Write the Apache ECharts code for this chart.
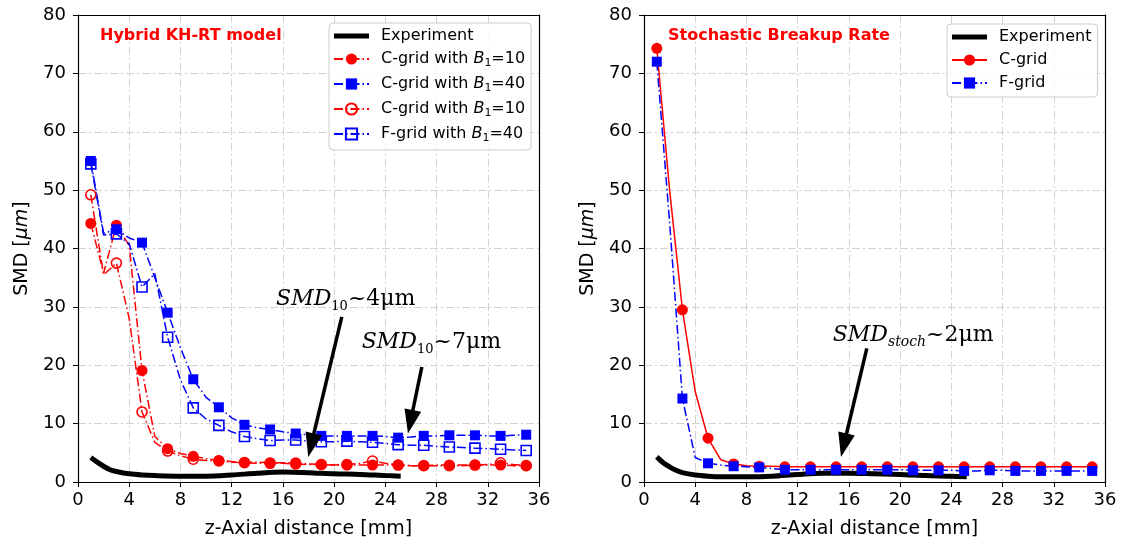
<!DOCTYPE html>
<html><head><meta charset="utf-8">
<script src="https://cdn.jsdelivr.net/npm/echarts@6/dist/echarts.min.js"></script>
<style>html,body{margin:0;padding:0;background:#fff}#c{width:1122px;height:546px}</style>
</head><body><div id="c"></div>
<script>
// ---------- data ----------
const simZ = [1,2,3,4,5,6,7,8,9,10,11,12,13,14,15,16,17,18,19,20,21,22,23,24,25,26,27,28,29,30,31,32,33,34,35];
const khrtC10 = [44.3,35.8,44.0,40.5,19.1,7.8,5.7,4.9,4.4,4.0,3.7,3.5,3.4,3.4,3.3,3.3,3.3,3.1,3.0,2.9,2.9,2.9,2.9,2.9,2.9,2.8,2.8,2.9,2.9,2.9,2.9,2.9,2.9,2.8,2.8];
const khrtC40 = [55.0,42.6,43.3,41.8,41.0,35.0,29.0,23.0,17.6,14.5,12.8,11.0,9.8,9.3,9.0,8.6,8.3,8.1,7.9,7.9,7.9,7.9,7.9,7.8,7.6,7.7,7.9,7.9,8.0,8.0,8.0,7.9,7.9,8.0,8.1];
const khrtC10b = [49.2,35.5,37.5,28.0,12.0,6.8,5.3,4.5,3.9,3.7,3.6,3.4,3.3,3.2,3.2,3.2,3.1,3.0,3.0,2.9,3.0,3.2,3.6,3.2,2.9,2.8,2.8,2.8,2.8,2.8,2.9,3.0,3.3,3.0,2.8];
const khrtF40 = [54.5,42.3,42.5,40.8,33.4,35.7,24.8,17.5,12.7,10.8,9.7,8.6,7.8,7.4,7.1,7.2,7.2,7.0,6.9,6.9,7.0,6.9,6.8,6.6,6.4,6.3,6.3,6.1,6.0,5.9,5.8,5.7,5.6,5.5,5.4];
const stochC = [74.3,50.0,29.5,15.5,7.5,3.8,3.1,2.8,2.7,2.7,2.6,2.6,2.6,2.6,2.6,2.6,2.6,2.6,2.6,2.6,2.6,2.6,2.6,2.6,2.6,2.6,2.6,2.6,2.6,2.6,2.6,2.6,2.6,2.6,2.6];
const stochF = [72.0,44.5,14.3,4.2,3.2,2.9,2.7,2.6,2.5,2.3,2.1,2.1,2.1,2.1,2.1,2.1,2.1,2.1,2.1,2.1,2.0,2.0,2.0,2.0,1.9,1.9,2.0,2.0,1.9,1.9,1.9,1.9,1.9,1.9,1.9];
const expZ = [1,1.5,2,2.5,3,4,5,6,8,10,12,14,16,18,20,22,24,25.2];
const expLeft = [4.2,3.4,2.7,2.1,1.8,1.4,1.2,1.1,1.0,1.0,1.2,1.5,1.7,1.6,1.4,1.3,1.1,1.0];
const expRight = [4.3,3.3,2.6,2.0,1.6,1.2,1.0,0.9,0.9,1.0,1.3,1.5,1.5,1.4,1.3,1.1,1.0,0.9];

const titles = ['Hybrid KH-RT model', 'Stochastic Breakup Rate'];
const xName = 'z-Axial distance [mm]';
const legendLabels = {
  exp1: '{n|Experiment}',
  c10: '{n|C-grid with }{i|B}{s|1}{n|=10}',
  c40: '{n|C-grid with }{i|B}{s|1}{n|=40}',
  c10o: '{n|C-grid with }{i|B}{s|1}{n|=10}',
  f40: '{n|F-grid with }{i|B}{s|1}{n|=40}',
  exp2: '{n|Experiment}',
  c2: '{n|C-grid}',
  f2: '{n|F-grid}'
};
// annotation arrows: [start, end] in data coords
const arrowsLeft = [[[20.6, 28.3], [18.2, 6.3]], [[26.85, 19.7], [25.96, 10.3]]];
const arrowsRight = [[[17.4, 22.9], [15.6, 6.3]]];
const textsLeft = [{at: [15.47, 31.3], sub: '10', subStyle: 'u', tail: '~4μm'}, {at: [22.16, 23.9], sub: '10', subStyle: 'u', tail: '~7μm'}];
const textsRight = [{at: [14.74, 25.2], sub: 'stoch', subStyle: 's', tail: '~2μm'}];

// ---------- styling ----------
const FONT = 'DejaVu Sans';
const DASHDOT = [9, 3, 1.5, 3];
const RED = '#ff0000', BLUE = '#0000ff';
const pairs = (xs, ys) => xs.map((x, i) => [x, ys[i]]);
const markerSize = s => (v => (v[0] % 2 === 1 ? s : 0));

const richLegend = {
  n: {fontFamily: FONT, fontSize: 16, lineHeight: 20, color: '#000'},
  i: {fontFamily: FONT, fontSize: 16, fontStyle: 'italic', lineHeight: 20, color: '#000'},
  s: {fontFamily: FONT, fontSize: 11, lineHeight: 9, verticalAlign: 'bottom', color: '#000'}
};
const richAnno = {
  i: {fontFamily: 'DejaVu Serif', fontSize: 22, fontStyle: 'italic', lineHeight: 28, color: '#000'},
  s: {fontFamily: 'DejaVu Serif', fontSize: 14, fontStyle: 'italic', lineHeight: 11, verticalAlign: 'bottom', color: '#000'},
  u: {fontFamily: 'DejaVu Serif', fontSize: 13, lineHeight: 11, verticalAlign: 'bottom', color: '#000'},
  n: {fontFamily: 'DejaVu Serif', fontSize: 22, lineHeight: 28, color: '#000'}
};

function annotations(arrows, texts) {
  return {
    markLine: {
      silent: true, animation: false,
      symbol: ['none', 'triangle'],
      lineStyle: {color: '#000', width: 3.5, type: 'solid'},
      label: {show: false},
      data: arrows.map(a => [{coord: a[0], symbol: 'none'}, {coord: a[1], symbol: 'triangle', symbolSize: [17, 24]}])
    },
    markPoint: {
      silent: true, animation: false,
      symbol: 'circle', symbolSize: 0,
      data: texts.map(t => ({
        coord: t.at,
        label: {show: true, position: 'right', distance: 0,
          formatter: '{i|SMD}{' + t.subStyle + '|' + t.sub + '}{n|' + t.tail + '}', rich: richAnno}
      }))
    }
  };
}

const SPLIT = {show: true, lineStyle: {color: '#d2d2d2', width: 1, type: [8, 3, 2, 3]}};
function xAxis(gi) {
  return {
    type: 'value', gridIndex: gi, min: 0, max: 36, interval: 4,
    name: xName, nameLocation: 'middle', nameGap: 38,
    nameTextStyle: {fontFamily: FONT, fontSize: 19, color: '#000'},
    axisLine: {show: true, onZero: false, lineStyle: {color: '#000', width: 1.2}},
    axisTick: {show: true, inside: false, length: 5, lineStyle: {color: '#000'}},
    axisLabel: {fontFamily: FONT, fontSize: 18, color: '#000', margin: 9},
    splitLine: SPLIT
  };
}
function xFrame(gi) {
  return {
    type: 'value', gridIndex: gi, min: 0, max: 36, interval: 4, position: 'top',
    axisLine: {show: true, onZero: false, lineStyle: {color: '#000', width: 1.2}},
    axisTick: {show: false}, axisLabel: {show: false}, splitLine: {show: false}
  };
}
function yAxis(gi) {
  return {
    type: 'value', gridIndex: gi, min: 0, max: 80, interval: 10,
    name: '{n|SMD [}{i|μm}{n|]}', nameLocation: 'middle', nameGap: 46,
    nameTextStyle: {rich: {
      n: {fontFamily: FONT, fontSize: 19, color: '#000'},
      i: {fontFamily: FONT, fontSize: 19, fontStyle: 'italic', color: '#000'}}},
    axisLine: {show: true, onZero: false, lineStyle: {color: '#000', width: 1.2}},
    axisTick: {show: true, inside: false, length: 5, lineStyle: {color: '#000'}},
    axisLabel: {fontFamily: FONT, fontSize: 18, color: '#000', margin: 12},
    splitLine: SPLIT
  };
}
function yFrame(gi) {
  return {
    type: 'value', gridIndex: gi, min: 0, max: 80, interval: 10, position: 'right',
    axisLine: {show: true, onZero: false, lineStyle: {color: '#000', width: 1.2}},
    axisTick: {show: false}, axisLabel: {show: false}, splitLine: {show: false}
  };
}

function simLine(name, gi, ys, color, sym, size, filled, dash) {
  return {
    name, type: 'line', xAxisIndex: gi, yAxisIndex: gi,
    data: pairs(simZ, ys), symbol: sym, symbolSize: markerSize(size),
    showAllSymbol: true,
    lineStyle: {color, width: 1.5, type: dash ? DASHDOT : 'solid'},
    itemStyle: filled ? {color} : {color: 'rgba(255,255,255,0)', borderColor: color, borderWidth: 1.6},
    emphasis: {disabled: true}
  };
}
function expLine(name, gi, ys, anno) {
  return Object.assign({
    name, type: 'line', xAxisIndex: gi, yAxisIndex: gi,
    data: pairs(expZ, ys), symbol: 'none', smooth: 0.3,
    lineStyle: {color: '#000', width: 5}, itemStyle: {color: '#000'},
    emphasis: {disabled: true}, z: 2
  }, anno);
}

const EXP_ICON = 'path://M0,0H35V5H0Z';
function legend(names, pos) {
  return Object.assign({
    orient: 'vertical', itemWidth: 35, itemHeight: 14, itemGap: 7,
    padding: [5, 6, 6, 4], borderColor: '#cccccc', borderWidth: 1, borderRadius: 4,
    backgroundColor: 'rgba(255,255,255,0.85)',
    data: names.map(n => n.indexOf('exp') === 0 ? {name: n, icon: EXP_ICON} : {name: n}),
    formatter: n => legendLabels[n],
    textStyle: {padding: [0, 0, 0, 7], rich: richLegend},
    selectedMode: false
  }, pos);
}

const option = {
  animation: false,
  backgroundColor: '#fff',
  title: [
    {text: titles[0], left: 100, top: 28, padding: 0, textStyle: {fontFamily: FONT, fontSize: 16, fontWeight: 'bold', color: RED}},
    {text: titles[1], left: 668, top: 28, padding: 0, textStyle: {fontFamily: FONT, fontSize: 16, fontWeight: 'bold', color: RED}}
  ],
  grid: [
    {left: 78, top: 15, width: 461, height: 467, show: false},
    {left: 644, top: 15, width: 461, height: 467, show: false}
  ],
  xAxis: [xAxis(0), xAxis(1), xFrame(0), xFrame(1)],
  yAxis: [yAxis(0), yAxis(1), yFrame(0), yFrame(1)],
  legend: [
    legend(['exp1', 'c10', 'c40', 'c10o', 'f40'], {left: 329, top: 23}),
    legend(['exp2', 'c2', 'f2'], {left: 947, top: 24})
  ],
  series: [
    expLine('exp1', 0, expLeft, annotations(arrowsLeft, textsLeft)),
    simLine('c10', 0, khrtC10, RED, 'circle', 11, true, true),
    simLine('c40', 0, khrtC40, BLUE, 'rect', 10, true, true),
    simLine('c10o', 0, khrtC10b, RED, 'circle', 10, false, true),
    simLine('f40', 0, khrtF40, BLUE, 'rect', 10, false, true),
    expLine('exp2', 1, expRight, annotations(arrowsRight, textsRight)),
    simLine('c2', 1, stochC, RED, 'circle', 11, true, false),
    simLine('f2', 1, stochF, BLUE, 'rect', 10, true, true)
  ]
};
const chart = echarts.init(document.getElementById('c'), null, {renderer: 'canvas'});
chart.setOption(option);
</script></body></html>
